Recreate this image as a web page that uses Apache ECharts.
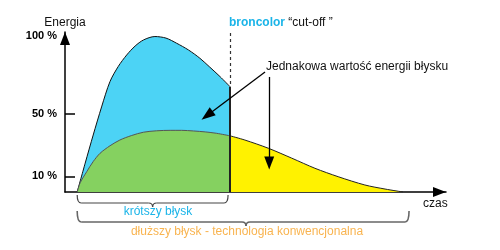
<!DOCTYPE html>
<html>
<head>
  <meta charset="utf-8">
  <script src="https://cdn.jsdelivr.net/npm/echarts@6/dist/echarts.min.js"></script>
  <style>
    html, body { margin: 0; padding: 0; background: #fff; }
    #chart { width: 500px; height: 250px; }
  </style>
</head>
<body>
<div id="chart"></div>
<script>
  // czas (0..100) i energia (%)
  let shortTime = [3.2, 5.3, 7.4, 9.6, 11.8, 14.0, 16.2, 18.4, 20.6, 23.6, 26.5, 29.3, 32.4, 35.4, 38.0, 40.7, 43.3];
  let shortEnergy = [0, 18.5, 36.5, 54.5, 70.7, 80.5, 87.8, 93.5, 97.4, 99.6, 98.6, 95.3, 91.0, 85.7, 80.0, 73.9, 67.5];

  let longTime = [3.2, 4.0, 5.7, 7.4, 9.2, 11.8, 14.4, 17.5, 20.6, 24.0, 27.6, 30.6, 33.7, 36.8, 39.8, 43.3];
  let longEnergy = [0, 6.0, 13.0, 19.5, 24.8, 29.6, 33.3, 36.2, 38.3, 39.2, 39.5, 39.5, 39.1, 38.5, 37.6, 36.0];

  let tailTime = [43.3, 47.2, 53.4, 59.5, 65.6, 71.7, 78.7, 84.0, 88.7];
  let tailEnergy = [36.0, 33.3, 28.0, 21.7, 15.2, 9.8, 4.5, 1.9, 0];

  let yTicks = [10, 50];
  let yLabels = [10, 50, 100];
  let cutOff = 43.3;
  let braceShort = [3.2, 42.8];
  let braceLong = [3.2, 90.3];

  let zip = (xs, ys) => xs.map((x, i) => [x, ys[i]]);

  let myChart = echarts.init(document.getElementById('chart'));
  let font = 'Liberation Sans, Arial, sans-serif';

  let option = {
    animation: false,
    grid: { left: 65, right: 54, top: 32, bottom: 58 },
    xAxis: {
      type: 'value',
      min: 0,
      max: 100,
      axisLine: {
        symbol: ['none', 'triangle'],
        symbolSize: [10, 13],
        symbolOffset: [0, -6.5],
        lineStyle: { color: '#000', width: 1.5 }
      },
      axisTick: { show: false },
      axisLabel: { show: false },
      splitLine: { show: false }
    },
    yAxis: {
      type: 'value',
      min: 0,
      max: 102.5,
      axisLine: {
        show: true,
        symbol: ['none', 'triangle'],
        symbolSize: [10, 13],
        symbolOffset: [0, -6.5],
        lineStyle: { color: '#000', width: 1.5 }
      },
      axisTick: {
        show: true,
        inside: true,
        length: 10,
        customValues: yTicks,
        lineStyle: { color: '#000', width: 1.5 }
      },
      axisLabel: {
        customValues: yLabels,
        formatter: v => v + ' %',
        margin: 8,
        color: '#000',
        fontWeight: 'bold',
        fontSize: 11,
        fontFamily: font
      },
      splitLine: { show: false }
    },
    series: [
      {
        name: 'short',
        type: 'line',
        data: zip(shortTime, shortEnergy),
        smooth: 0.3,
        symbol: 'none',
        clip: false,
        lineStyle: { color: '#111', width: 1 },
        areaStyle: { color: '#4cd3f5', opacity: 1 },
        z: 2,
        markLine: {
          silent: true,
          symbol: 'none',
          label: { show: false },
          data: [
            [{ coord: [cutOff, 101.9], lineStyle: { type: [3, 3], color: '#333', width: 1.2 } },
             { coord: [cutOff, 67.5] }],
            [{ coord: [cutOff, 67.5], lineStyle: { type: 'solid', color: '#222', width: 2 } },
             { coord: [cutOff, 0] }],
            [{ coord: [52.5, 76.9], symbol: 'none', lineStyle: { type: 'solid', color: '#000', width: 1.3 } },
             { coord: [37.3, 49.0], symbol: 'triangle', symbolSize: [10, 14] }],
            [{ coord: [53.6, 73.7], symbol: 'none', lineStyle: { type: 'solid', color: '#000', width: 1.3 } },
             { coord: [53.6, 18.6], symbol: 'triangle', symbolSize: [10, 13] }]
          ]
        }
      },
      {
        name: 'long',
        type: 'line',
        data: zip(longTime, longEnergy),
        smooth: 0.3,
        symbol: 'none',
        lineStyle: { color: '#555', width: 1 },
        areaStyle: { color: '#85d160', opacity: 1 },
        z: 3
      },
      {
        name: 'tail',
        type: 'line',
        data: zip(tailTime, tailEnergy),
        smooth: 0.3,
        symbol: 'none',
        lineStyle: { color: '#222', width: 1 },
        areaStyle: { color: '#fff200', opacity: 1 },
        z: 3
      }
    ]
  };
  myChart.setOption(option);

  // klamry pod osią czasu, z łuków i odcinków
  function brace(x0, x1, mid, top, bottom, tip, stroke, width) {
    let r = 4;
    let style = { stroke: stroke, lineWidth: width, fill: null };
    let arc = (a, b, c, d, cx, cy) => ({
      type: 'bezierCurve', shape: { x1: a, y1: b, x2: c, y2: d, cpx1: cx, cpy1: cy }, style: style
    });
    let seg = (a, b, c, d) => ({
      type: 'line', shape: { x1: a, y1: b, x2: c, y2: d }, style: style
    });
    return [
      arc(x0, top, x0 + r, bottom, x0, bottom),
      seg(x0 + r, bottom, mid - r, bottom),
      arc(mid - r, bottom, mid, tip, mid, bottom),
      arc(mid, tip, mid + r, bottom, mid, bottom),
      seg(mid + r, bottom, x1 - r, bottom),
      arc(x1 - r, bottom, x1, top, x1, bottom)
    ];
  }
  let px = v => myChart.convertToPixel({ gridIndex: 0 }, [v, 0])[0];
  let s0 = px(braceShort[0]), s1 = px(braceShort[1]);
  let l0 = px(braceLong[0]), l1 = px(braceLong[1]);

  let texts = [
    {
      type: 'text', x: 65, y: 23,
      style: { text: 'Energia', font: '12px ' + font, fill: '#111', align: 'center', verticalAlign: 'middle' }
    },
    {
      type: 'text', x: 229, y: 23,
      style: {
        text: '{b|broncolor} “cut-off ”',
        font: '12px ' + font, fill: '#111', verticalAlign: 'middle',
        rich: { b: { font: 'bold 12px ' + font, fill: '#1ab4e8' } }
      }
    },
    {
      type: 'text', x: 266, y: 67,
      style: { text: 'Jednakowa wartość energii błysku', font: '12px ' + font, fill: '#111', verticalAlign: 'middle' }
    },
    {
      type: 'text', x: 423, y: 204,
      style: { text: 'czas', font: '12px ' + font, fill: '#111', verticalAlign: 'middle' }
    },
    {
      type: 'text', x: 158, y: 212,
      style: { text: 'krótszy błysk', font: '12px ' + font, fill: '#1ab4e8', align: 'center', verticalAlign: 'middle' }
    },
    {
      type: 'text', x: 247, y: 232,
      style: { text: 'dłuższy błysk - technologia konwencjonalna', font: '12px ' + font, fill: '#f9b450', align: 'center', verticalAlign: 'middle' }
    }
  ];

  myChart.setOption({
    graphic: brace(s0, s1, (s0 + s1) / 2, 195, 203, 207, '#444', 1.2)
      .concat(brace(l0, l1, 246, 211, 222, 226, '#666', 1.6))
      .concat(texts)
  });
</script>
</body>
</html>
